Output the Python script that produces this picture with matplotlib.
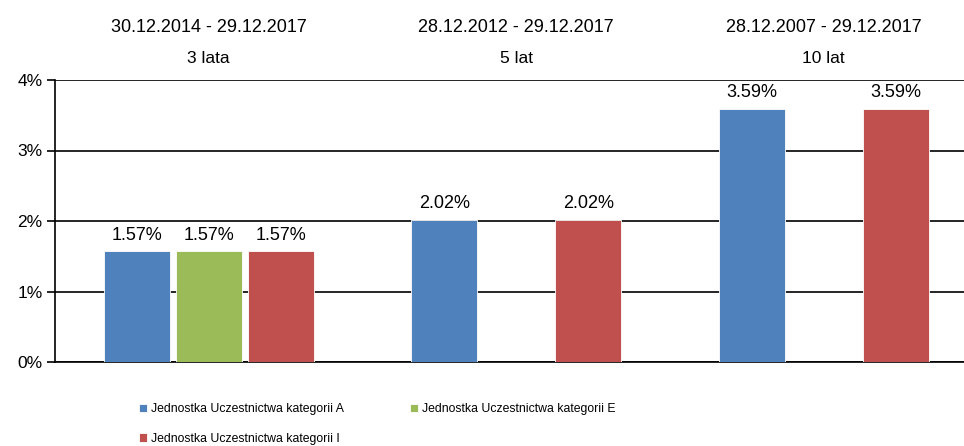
import matplotlib
matplotlib.use("Agg")
import matplotlib.pyplot as plt
import numpy as np

plt.rcParams['font.family'] = ['Liberation Sans', 'DejaVu Sans']

periods = ["30.12.2014 - 29.12.2017", "28.12.2012 - 29.12.2017", "28.12.2007 - 29.12.2017"]
durations = ["3 lata", "5 lat", "10 lat"]
series_names = ["Jednostka Uczestnictwa kategorii A",
                "Jednostka Uczestnictwa kategorii E",
                "Jednostka Uczestnictwa kategorii I"]
val_A = [1.57, 2.02, 3.59]
val_E = [1.57, None, None]
val_I = [1.57, 2.02, 3.59]
colors = ["#4F81BD", "#9BBB59", "#C0504D"]

fig = plt.figure(figsize=(9.64, 4.46), dpi=100)
W, H = 964, 446
ax = fig.add_axes([55 / W, 1 - 362 / H, (964 - 55) / W, (362 - 80) / H])

x = np.arange(len(periods))
width = 0.215
offsets = [-0.234, 0.0, 0.234]
handles = []
for vals, off, col, name in zip([val_A, val_E, val_I], offsets, colors, series_names):
    xs = [xi + off for xi, v in zip(x, vals) if v is not None]
    vs = [v for v in vals if v is not None]
    b = ax.bar(xs, vs, width, color=col, edgecolor="white", linewidth=0.6, label=name, zorder=3)
    handles.append(b)
    for xi, v in zip(xs, vs):
        ax.text(xi, v + 0.11, f"{v:.2f}%", ha="center", va="bottom", fontsize=13, zorder=4)

ax.set_xlim(-0.5, -0.5 + 909 / 307.5)
ax.set_ylim(0, 4)
ax.set_yticks([0, 1, 2, 3, 4])
ax.set_yticklabels([f"{t}%" for t in range(5)], fontsize=12.5)
ax.set_xticks([])
ax.yaxis.grid(True, color="black", linewidth=1.2, zorder=0)
for s in ["top", "right"]:
    ax.spines[s].set_visible(False)
ax.spines["left"].set_linewidth(1.2)
ax.spines["bottom"].set_linewidth(1.2)
ax.tick_params(axis="y", length=6, width=1.2, pad=3)

for xi, p, d in zip(x, periods, durations):
    ax.text(xi, 4.74, p, ha="center", va="center", fontsize=13, clip_on=False)
    ax.text(xi, 4.31, d, ha="center", va="center", fontsize=12.5, clip_on=False)

order = [0, 2, 1]
fig.legend(handles=[handles[i] for i in order], labels=[series_names[i] for i in order],
           ncol=2, loc="upper left",
           bbox_to_anchor=(128 / W, 1 - 392 / H), frameon=False, fontsize=8.8,
           handlelength=0.65, handleheight=0.65, handletextpad=0.3,
           columnspacing=5.45, labelspacing=1.45)

fig.savefig("out.png", dpi=100)
